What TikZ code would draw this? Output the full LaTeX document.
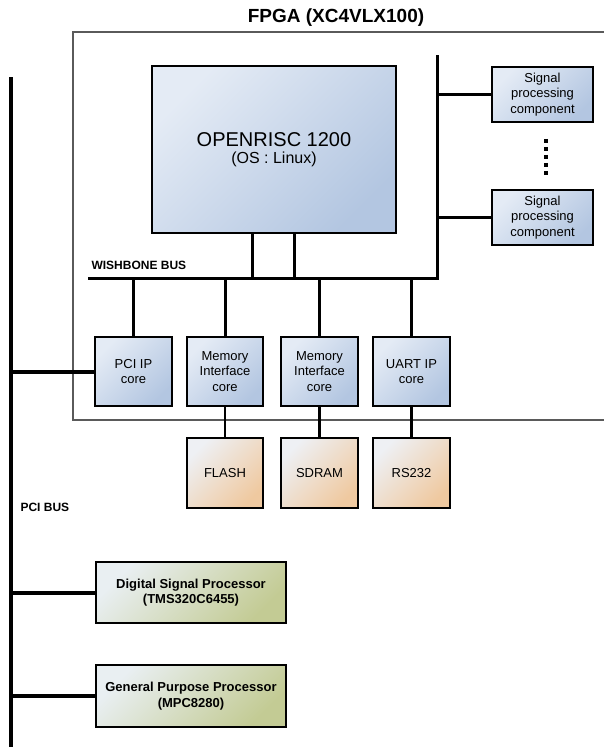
\documentclass[tikz,border=0pt]{standalone}
\usepackage{fontspec}
\setmainfont{Liberation Sans}

\definecolor{coreLight}{HTML}{E4EBF5}
\definecolor{coreDark}{HTML}{B3C6E1}
\definecolor{memLight}{HTML}{EEF0F4}
\definecolor{memDark}{HTML}{EFC9A0}
\definecolor{procLight}{HTML}{E9EFF2}
\definecolor{procDark}{HTML}{C3CB94}
\definecolor{frameGray}{HTML}{5A5A5A}

\begin{document}
\begin{tikzpicture}[
    x=1pt,
    y=-1pt,
    core/.style={draw=black, line width=1.8pt, top color=coreLight, bottom color=coreDark,
        shading angle=45, align=center, inner sep=0pt,
        font=\fontsize{13pt}{15.7pt}\selectfont},
    mem/.style={core, top color=memLight, bottom color=memDark, shading angle=45},
    proc/.style={core, top color=procLight, bottom color=procDark, shading angle=45,
        font=\fontsize{13pt}{15.7pt}\selectfont\bfseries},
    wire/.style={line width=3pt, draw=black},
    thinwire/.style={line width=2.4pt, draw=black},
    pcibus/.style={line width=4.5pt, draw=black},
    buslabel/.style={anchor=west, font=\fontsize{12pt}{14pt}\selectfont\bfseries}
]
\useasboundingbox (0,0) rectangle (604,747);

% 1. FPGA frame and title
\draw[line width=1.2pt, draw=frameGray] (610,32) -- (73,32) -- (73,420) -- (610,420);
\node[font=\fontsize{19pt}{22pt}\selectfont\bfseries] (fpgaTitle) at (336,18) {FPGA (XC4VLX100)};

% 2. Processor and signal processing components
\node[core, minimum width=244pt, minimum height=167pt] (cpu) at (274,149.5) {
    {\fontsize{20pt}{22pt}\selectfont OPENRISC 1200}\\[1pt]
    {\fontsize{16pt}{18pt}\selectfont (OS : Linux)}
};
\node[core, minimum width=101pt, minimum height=55pt] (sp1) at (542.5,94.5) {Signal\\processing\\component};
\node[core, minimum width=101pt, minimum height=55pt] (sp2) at (542.5,217.5) {Signal\\processing\\component};
\draw[line width=3.5pt, dash pattern=on 4.5pt off 3.5pt] (sp1.south) ++(3.5,16) coordinate (dotTop)
    -- ([xshift=3.5pt, yshift=14pt]sp2.north) coordinate (dotBot);

% 3. Wishbone bus
\coordinate (wbW) at (88,278);
\coordinate (wbE) at (437,278);
\coordinate (wbTop) at (437,55);
\draw[wire] (wbW) -- (wbE) -- (wbTop);
\node[buslabel] (wbLabel) at (88,265) {WISHBONE BUS};
\draw[wire] ([xshift=-22pt]cpu.south) -- ([xshift=-22pt]cpu.south |- wbW);
\draw[wire] ([xshift=20pt]cpu.south) -- ([xshift=20pt]cpu.south |- wbW);
\draw[wire] (sp1.west) -- (sp1.west -| wbE);
\draw[wire] (sp2.west) -- (sp2.west -| wbE);

% 4. IP cores on the bus
\node[core, minimum width=77pt, minimum height=69pt] (pci) at (133.5,371.5) {PCI IP\\core};
\node[core, minimum width=76pt, minimum height=69pt] (mem1) at (225,371.5) {Memory\\Interface\\core};
\node[core, minimum width=77pt, minimum height=69pt] (mem2) at (319.5,371.5) {Memory\\Interface\\core};
\node[core, minimum width=77pt, minimum height=69pt] (uart) at (411.5,371.5) {UART IP\\core};
\foreach \n in {pci, mem1, mem2, uart} {
    \draw[wire] (\n.north) -- (\n.north |- wbW);
}

% 5. External devices
\node[mem, minimum width=76pt, minimum height=70pt] (flash) at (225,473) {FLASH};
\node[mem, minimum width=77pt, minimum height=70pt] (sdram) at (319.5,473) {SDRAM};
\node[mem, minimum width=77pt, minimum height=70pt] (rs) at (411.5,473) {RS232};
\draw[thinwire] (mem1.south) -- (flash.north);
\draw[thinwire] (mem2.south) -- (sdram.north);
\draw[thinwire] (uart.south) -- (rs.north);

% 6. PCI bus and processors
\coordinate (pciTop) at (11,77);
\coordinate (pciBot) at (11,747);
\draw[pcibus] (pciTop) -- (pciBot);
\node[buslabel] (pciLabel) at (17,507) {PCI BUS};
\node[proc, minimum width=190pt, minimum height=61pt] (dsp) at (191,592.5) {Digital Signal Processor\\(TMS320C6455)};
\node[proc, minimum width=190pt, minimum height=62pt] (gpp) at (191,696) {General Purpose Processor\\(MPC8280)};
\draw[line width=4pt] (pci.west) -- (pci.west -| pciTop);
\draw[line width=4pt] (dsp.west) -- (dsp.west -| pciTop);
\draw[line width=4pt] (gpp.west) -- (gpp.west -| pciTop);

\end{tikzpicture}
\end{document}
